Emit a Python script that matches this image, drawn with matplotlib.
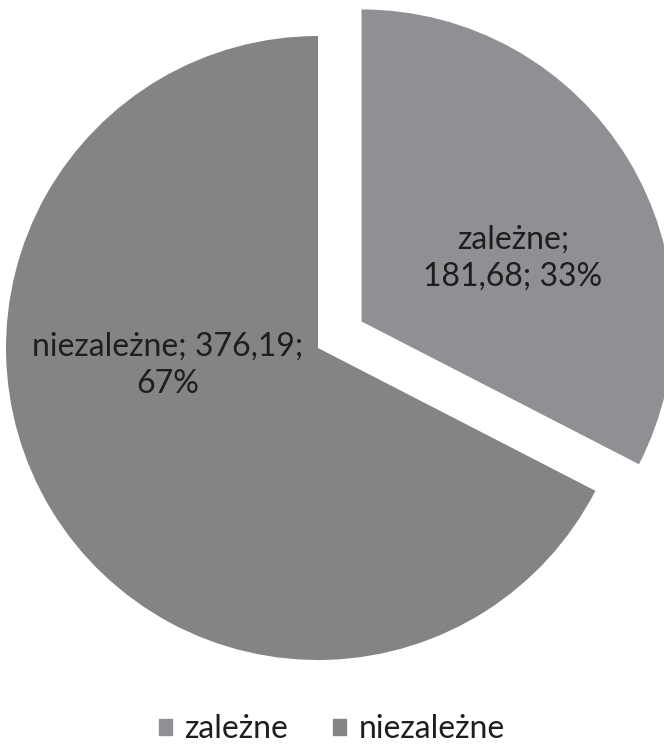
import matplotlib
matplotlib.use('Agg')
import matplotlib.pyplot as plt
from matplotlib.patches import Rectangle

# data
labels = ['zależne', 'niezależne']
values = [181.68, 376.19]
colors = ['#8f9094', '#848487']

plt.rcParams['font.family'] = ['Lato', 'DejaVu Sans']

fig = plt.figure(figsize=(6.64, 7.54), dpi=100)
ax = fig.add_axes([0, 0, 1, 1])

# pie in pixel units (y negative downwards); explode is in pixels here
R = 312
wedges, _ = ax.pie(values, colors=colors, radius=R, center=(318, -348),
                   startangle=90, counterclock=False, explode=[51, 0],
                   wedgeprops=dict(linewidth=0))
ax.set_xlim(0, 664)
ax.set_ylim(-754, 0)
ax.set_aspect('equal')
ax.axis('off')

total = sum(values)
pct = [round(v / total * 100) for v in values]
fmt = lambda v: ('%.2f' % v).replace('.', ',')

ax.text(513, -258, '%s;\n%s; %d%%' % (labels[0], fmt(values[0]), pct[0]),
        ha='center', va='center', fontsize=23, color='#1e1e1e', linespacing=1.3)
ax.text(168, -365, '%s; %s;\n%d%%' % (labels[1], fmt(values[1]), pct[1]),
        ha='center', va='center', fontsize=23, color='#1e1e1e', linespacing=1.3)

# legend
handles = [Rectangle((0, 0), 1, 1, color=c) for c in colors]
fig.legend(handles, labels, loc='lower center', bbox_to_anchor=(0.5, -0.025),
           ncol=2, frameon=False, fontsize=23, handlelength=0.4, handleheight=0.4,
           handletextpad=0.4, columnspacing=1.4, labelcolor='#1e1e1e')

fig.savefig('out.png', dpi=100)
